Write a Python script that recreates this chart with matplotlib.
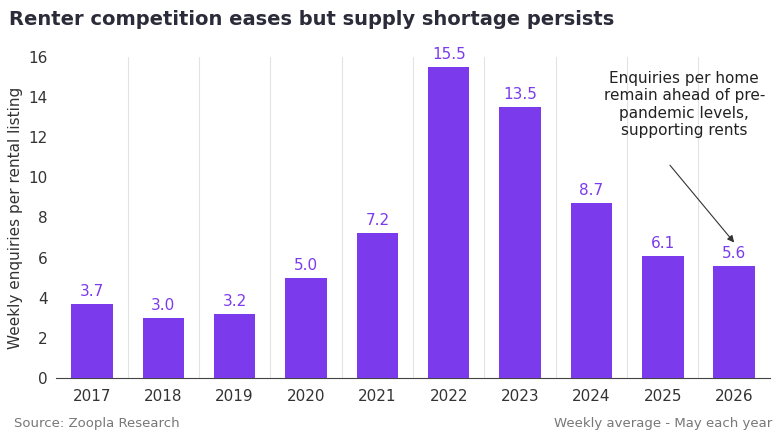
import matplotlib
matplotlib.use("Agg")
import matplotlib.pyplot as plt
import numpy as np

years = ["2017","2018","2019","2020","2021","2022","2023","2024","2025","2026"]
values = [3.7, 3.0, 3.2, 5.0, 7.2, 15.5, 13.5, 8.7, 6.1, 5.6]
yticks = [0, 2, 4, 6, 8, 10, 12, 14, 16]

purple = "#7C3AED"
fig = plt.figure(figsize=(7.8, 4.37), dpi=100)
ax = fig.add_axes([0.072, 0.135, 0.915, 0.735])
x = np.arange(len(years))
ax.bar(x, values, width=0.58, color=purple, zorder=3)
for xi, v in zip(x, values):
    ax.text(xi, v + 0.25, f"{v:.1f}", ha="center", va="bottom", color=purple, fontsize=11)
ax.set_xlim(-0.5, len(years) - 0.5)
ax.set_ylim(0, 16)
ax.set_yticks(yticks)
ax.set_xticks(x)
ax.set_xticklabels(years)
for b in np.arange(0.5, len(years) - 0.5, 1):
    ax.axvline(b, color="#E3E3E3", lw=0.8, zorder=0)
for s in ["top", "right", "left"]:
    ax.spines[s].set_visible(False)
ax.spines["bottom"].set_color("#444444")
ax.tick_params(axis="both", length=0, labelsize=11, colors="#333333", pad=8)
ax.tick_params(axis="y", pad=6)
ax.set_ylabel("Weekly enquiries per rental listing", fontsize=11, color="#333333", labelpad=4)
fig.text(0.012, 0.955, "Renter competition eases but supply shortage persists",
         fontsize=14, fontweight="bold", color="#2b2b3a", va="center")
fig.text(0.018, 0.022, "Source: Zoopla Research", fontsize=9.5, color="#777777")
fig.text(0.99, 0.022, "Weekly average - May each year", fontsize=9.5, color="#777777", ha="right")
ax.annotate("Enquiries per home\nremain ahead of pre-\npandemic levels,\nsupporting rents",
            xy=(9.0, 6.75), xytext=(8.3, 15.3), ha="center", va="top",
            fontsize=11, color="#222222", annotation_clip=False)
ax.annotate("", xy=(9.0, 6.75), xytext=(8.1, 10.6),
            arrowprops=dict(arrowstyle="-|>", color="#333333", lw=0.8,
                            shrinkA=0, shrinkB=0), annotation_clip=False)
fig.savefig("out.png", dpi=100)
